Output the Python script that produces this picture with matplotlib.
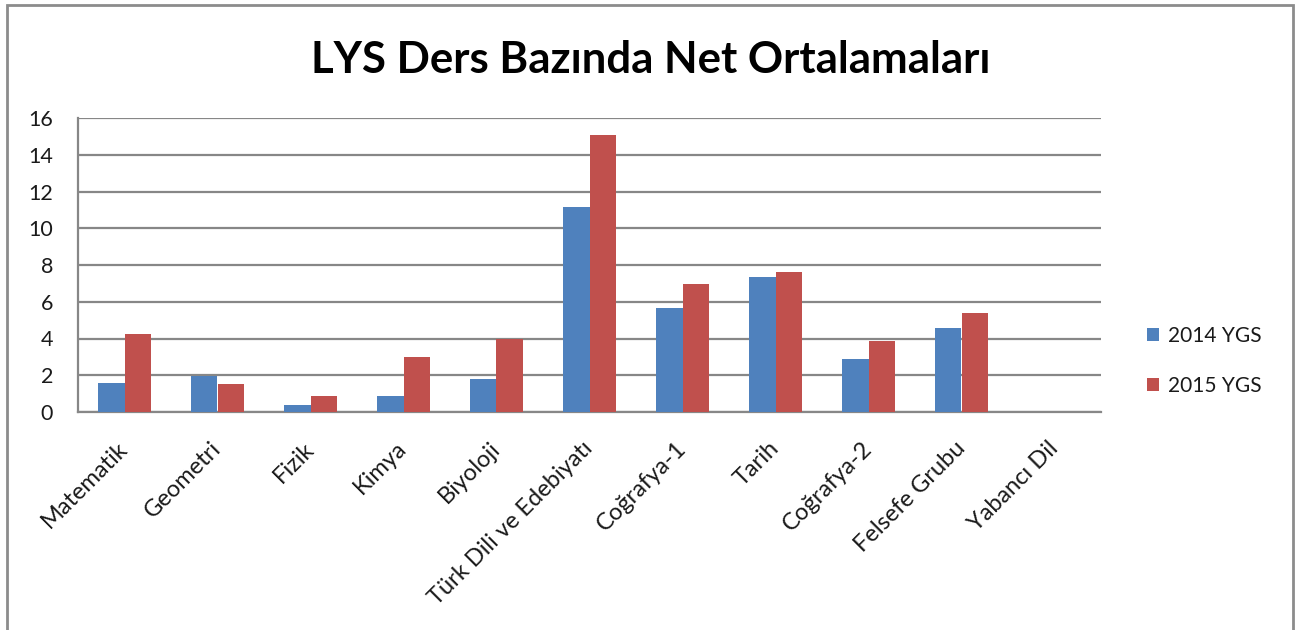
import matplotlib
matplotlib.use("Agg")
import matplotlib.pyplot as plt
import numpy as np
from matplotlib.patches import Rectangle

plt.rcParams['font.family'] = ['Lato', 'DejaVu Sans']

categories = ["Matematik", "Geometri", "Fizik", "Kimya", "Biyoloji",
              "Türk Dili ve Edebiyatı", "Coğrafya-1", "Tarih", "Coğrafya-2",
              "Felsefe Grubu", "Yabancı Dil"]
values_2014 = [1.57, 1.94, 0.40, 0.89, 1.79, 11.17, 5.68, 7.35, 2.90, 4.56, 0]
values_2015 = [4.22, 1.50, 0.89, 2.99, 3.98, 15.09, 6.95, 7.62, 3.87, 5.41, 0]
series_names = ["2014 YGS", "2015 YGS"]
title = "LYS Ders Bazında Net Ortalamaları"
yticks = [0, 2, 4, 6, 8, 10, 12, 14, 16]

W, H = 1299, 630
fig = plt.figure(figsize=(W / 100, H / 100), dpi=100)

# outer frame
fig.patches.append(Rectangle((7 / W, -0.05), (1293 - 7) / W, (H - 5) / H + 0.05,
                             transform=fig.transFigure, fill=False,
                             edgecolor='#8c8c8c', linewidth=2))

ax = fig.add_axes([78 / W, 1 - 412 / H, (1101 - 78) / W, (412 - 118) / H])
x = np.arange(len(categories))
bw = 0.28
b1 = ax.bar(x - bw / 2, values_2014, bw, color='#4F81BD', label=series_names[0], zorder=3)
b2 = ax.bar(x + bw / 2, values_2015, bw, color='#C0504D', label=series_names[1], zorder=3)

ax.set_xlim(-0.5, len(categories) - 0.5)
ax.set_ylim(0, 16)
ax.set_yticks(yticks)
ax.set_yticklabels([str(t) for t in yticks], fontsize=15.5, color='#1a1a1a')
ax.yaxis.grid(True, color='#878787', linewidth=1.6, zorder=0)
ax.set_axisbelow(True)
ax.tick_params(axis='y', length=0, pad=18)
ax.tick_params(axis='x', length=0, pad=24)
ax.set_xticks(x)
ax.set_xticklabels(categories, rotation=45, ha='right', va='center',
                   rotation_mode='anchor', fontsize=17, color='#1a1a1a')
for s in ['top', 'right']:
    ax.spines[s].set_visible(False)
for s in ['left', 'bottom']:
    ax.spines[s].set_color('#878787')
    ax.spines[s].set_linewidth(1.6)

fig.text(651 / W, 1 - 60 / H, title, ha='center', va='center',
         fontsize=31.5, fontweight='bold', color='black')

leg = fig.legend(handles=[b1, b2], labels=series_names, loc='center left',
                 bbox_to_anchor=(1128 / W, 1 - 361 / H), frameon=False,
                 fontsize=15, handlelength=0.6, handleheight=0.6,
                 handletextpad=0.4, labelspacing=1.45)
for t in leg.get_texts():
    t.set_color('#1a1a1a')

fig.savefig("out.png", dpi=100)
